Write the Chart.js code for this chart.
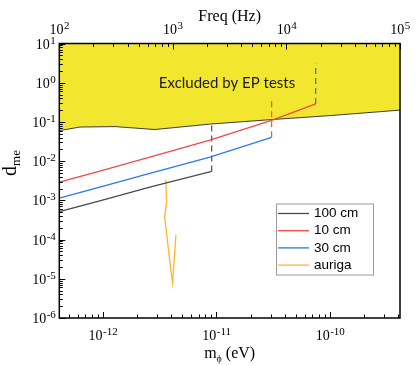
<!DOCTYPE html>
<html>
<head>
<meta charset="utf-8">
<script src="https://cdn.jsdelivr.net/npm/chart.js@4/dist/chart.umd.min.js"></script>
<style>
  html, body { margin: 0; padding: 0; background: #fff; }
  #wrap { width: 416px; height: 366px; position: relative; }
</style>
</head>
<body>
<div id="wrap"><canvas id="c"></canvas></div>
<script>
// scalar mass (eV) on the bottom, frequency (Hz) on top, 1 eV = 2.418e14 Hz
const massRange = [4.136e-13, 4.136e-10];
const freqRange = [1e2, 1e5];
const dRange = [1e-6, 10];

const massTicks = [1e-12, 1e-11, 1e-10];
const freqTicks = [1e2, 1e3, 1e4, 1e5];
const dTicks = [1e-6, 1e-5, 1e-4, 1e-3, 1e-2, 1e-1, 1e0, 1e1];

// EP-test exclusion boundary
const epMass = [4.136e-13, 6.27e-13, 1.28e-12, 2.87e-12, 8.77e-12, 2.96e-11, 1e-10, 4.136e-10];
const epLimit = [0.060, 0.074, 0.076, 0.064, 0.088, 0.114, 0.145, 0.20];

// projected sensitivities
const labels = ['100 cm', '10 cm', '30 cm', 'auriga'];
const m100 = [4.136e-13, 9.4e-13, 2.59e-12, 9.08e-12];
const d100 = [5.19e-4, 9.75e-4, 2.16e-3, 5.46e-3];
const m10 = [4.136e-13, 9.4e-13, 2.59e-12, 8.77e-12, 3.06e-11, 7.48e-11];
const d10 = [2.93e-3, 5.6e-3, 1.26e-2, 3.42e-2, 0.110, 0.288];
const m30 = [4.136e-13, 9.4e-13, 2.59e-12, 8.77e-12, 3.06e-11];
const d30 = [1.14e-3, 2.17e-3, 4.91e-3, 1.27e-2, 0.0404];
const aurigaMass = [3.59e-12, 3.64e-12, 3.50e-12, 3.74e-12, 3.97e-12, 4.11e-12, 4.22e-12, 4.40e-12];
const aurigaD = [3.35e-3, 8.7e-4, 3.8e-4, 7.3e-5, 1.68e-5, 7.8e-6, 2.26e-5, 1.32e-4];

// dashed cut-offs at the end of each curve
const cutMass = [9.08e-12, 3.06e-11, 7.48e-11];
const cutLow = [5.46e-3, 0.0404, 0.288];
const cutHigh = [0.085, 0.41, 3.03];

const colors = ['#4a4a4a', '#f2484a', '#2a7ae8', '#ffb52e'];
const cutColors = ['#5a5a5a', '#f25a3e', '#2a7ae8'];

const pts = (xs, ys) => xs.map((x, i) => ({ x: x, y: ys[i] }));

const datasets = [
  {
    label: 'EP', data: pts(epMass, epLimit), fill: 'end', order: 10,
    backgroundColor: '#f2e62e', borderColor: '#3a3a3a', borderWidth: 1
  },
  { label: labels[0], data: pts(m100, d100), borderColor: colors[0] },
  { label: labels[1], data: pts(m10, d10), borderColor: colors[1] },
  { label: labels[2], data: pts(m30, d30), borderColor: colors[2] },
  { label: labels[3], data: pts(aurigaMass, aurigaD), borderColor: colors[3] }
];
cutMass.forEach((m, i) => {
  datasets.push({
    label: 'cut', data: [{ x: m, y: cutLow[i] }, { x: m, y: cutHigh[i] }],
    borderColor: cutColors[i], borderDash: [6, 4]
  });
});
datasets.forEach(d => {
  d.pointRadius = 0;
  d.tension = 0;
  if (!d.borderWidth) d.borderWidth = 1.3;
  if (!d.fill) d.fill = false;
  if (d.order === undefined) d.order = 0;
});

const SERIF = '"Liberation Serif", "Times New Roman", serif';
const SANS = '"Liberation Sans", Arial, sans-serif';

function powLabel(ctx, exp, x, y, align) {
  ctx.font = '14px ' + SERIF;
  const wb = ctx.measureText('10').width;
  ctx.font = '11px ' + SERIF;
  const s = String(exp);
  const we = ctx.measureText(s).width;
  let left = x - (wb + we) / 2;
  if (align === 'right') left = x - wb - we;
  ctx.textAlign = 'left';
  ctx.textBaseline = 'alphabetic';
  ctx.font = '14px ' + SERIF;
  ctx.fillText('10', left, y);
  ctx.font = '11px ' + SERIF;
  ctx.fillText(s, left + wb + 0.5, y - 5);
}

function minors(decades, lo, hi) {
  const out = [];
  decades.concat([decades[0] / 10]).forEach(d => {
    for (let k = 2; k <= 9; k++) {
      const v = d * k;
      if (v > lo && v < hi) out.push(v);
    }
  });
  return out;
}

const decor = {
  id: 'decor',
  afterDatasetsDraw(chart) {
    const { ctx, chartArea: a, scales } = chart;
    const sx = scales.x, sx2 = scales.x2, sy = scales.y;
    ctx.save();
    ctx.strokeStyle = '#000';
    ctx.fillStyle = '#000';

    // ticks pointing inward
    ctx.lineWidth = 1;
    ctx.beginPath();
    massTicks.forEach(v => { const p = Math.round(sx.getPixelForValue(v)) + 0.5; ctx.moveTo(p, a.bottom); ctx.lineTo(p, a.bottom - 6); });
    minors(massTicks, massRange[0], massRange[1]).forEach(v => { const p = Math.round(sx.getPixelForValue(v)) + 0.5; ctx.moveTo(p, a.bottom); ctx.lineTo(p, a.bottom - 3.5); });
    freqTicks.forEach(v => { const p = Math.round(sx2.getPixelForValue(v)) + 0.5; ctx.moveTo(p, a.top); ctx.lineTo(p, a.top + 6); });
    minors(freqTicks, freqRange[0], freqRange[1]).forEach(v => { const p = Math.round(sx2.getPixelForValue(v)) + 0.5; ctx.moveTo(p, a.top); ctx.lineTo(p, a.top + 3.5); });
    dTicks.forEach(v => { const p = Math.round(sy.getPixelForValue(v)) + 0.5; ctx.moveTo(a.left, p); ctx.lineTo(a.left + 6, p); });
    minors(dTicks, dRange[0], dRange[1]).forEach(v => { const p = Math.round(sy.getPixelForValue(v)) + 0.5; ctx.moveTo(a.left, p); ctx.lineTo(a.left + 3.5, p); });
    ctx.stroke();

    // frame
    ctx.lineWidth = 1.5;
    ctx.strokeRect(a.left, a.top, a.right - a.left, a.bottom - a.top);

    // tick labels
    massTicks.forEach(v => powLabel(ctx, Math.round(Math.log10(v)), sx.getPixelForValue(v), a.bottom + 22));
    freqTicks.forEach(v => powLabel(ctx, Math.round(Math.log10(v)), sx2.getPixelForValue(v), a.top - 10));
    dTicks.forEach(v => powLabel(ctx, Math.round(Math.log10(v)), a.left - 4, sy.getPixelForValue(v) + 5, 'right'));

    // axis titles
    const cx = (a.left + a.right) / 2;
    ctx.textBaseline = 'alphabetic';
    ctx.textAlign = 'center';
    ctx.font = '16px ' + SERIF;
    ctx.fillText('Freq (Hz)', cx, 21);

    ctx.textAlign = 'left';
    ctx.font = '16px ' + SERIF;
    const wm = ctx.measureText('m').width;
    const wr = ctx.measureText(' (eV)').width;
    ctx.font = '10px ' + SERIF;
    const wp = ctx.measureText('ϕ').width;
    let lx = cx - (wm + wp + wr) / 2;
    ctx.font = '16px ' + SERIF;
    ctx.fillText('m', lx, 358);
    ctx.font = '10px ' + SERIF;
    ctx.fillText('ϕ', lx + wm, 362);
    ctx.font = '16px ' + SERIF;
    ctx.fillText(' (eV)', lx + wm + wp, 358);

    ctx.save();
    ctx.translate(16, 163);
    ctx.rotate(-Math.PI / 2);
    ctx.font = '20px ' + SERIF;
    const wd = ctx.measureText('d').width;
    ctx.font = '13px ' + SERIF;
    const wme = ctx.measureText('me').width;
    ctx.font = '20px ' + SERIF;
    ctx.fillText('d', -(wd + wme) / 2, 0);
    ctx.font = '13px ' + SERIF;
    ctx.fillText('me', -(wd + wme) / 2 + wd, 4);
    ctx.restore();

    // annotation in the excluded region
    ctx.textAlign = 'center';
    ctx.textBaseline = 'middle';
    ctx.font = '15px Lato, "Open Sans", sans-serif';
    ctx.fillStyle = '#1a1a1a';
    ctx.fillText('Excluded by EP tests', sx.getPixelForValue(1.24e-11), sy.getPixelForValue(1.0));

    // legend
    const lgL = a.right - 124, lgT = a.top + 160, lgW = 97, lgH = 71;
    ctx.fillStyle = '#fff';
    ctx.fillRect(lgL, lgT, lgW, lgH);
    ctx.strokeStyle = '#9a9a9a';
    ctx.lineWidth = 1;
    ctx.strokeRect(lgL + 0.5, lgT + 0.5, lgW, lgH);
    ctx.textAlign = 'left';
    ctx.textBaseline = 'middle';
    ctx.font = '13.5px ' + SANS;
    labels.forEach((t, i) => {
      const yy = lgT + 10 + i * 17.2;
      ctx.strokeStyle = colors[i];
      ctx.lineWidth = 1.3;
      ctx.beginPath();
      ctx.moveTo(lgL + 2, yy);
      ctx.lineTo(lgL + 33, yy);
      ctx.stroke();
      ctx.fillStyle = '#000';
      ctx.fillText(t, lgL + 38, yy);
    });
    ctx.restore();
  }
};

new Chart(document.getElementById('c'), {
  type: 'line',
  data: { datasets: datasets },
  options: {
    responsive: true,
    maintainAspectRatio: false,
    animation: false,
    layout: { padding: { left: 0, right: 16, top: 0, bottom: 0 } },
    plugins: { legend: { display: false }, tooltip: { enabled: false } },
    scales: {
      x: {
        type: 'logarithmic', position: 'bottom', min: massRange[0], max: massRange[1],
        grid: { display: false }, border: { display: false }, ticks: { display: false },
        afterFit: s => { s.height = 48; }
      },
      x2: {
        type: 'logarithmic', position: 'top', min: freqRange[0], max: freqRange[1],
        grid: { display: false }, border: { display: false }, ticks: { display: false },
        afterFit: s => { s.height = 43.5; }
      },
      y: {
        type: 'logarithmic', position: 'left', min: dRange[0], max: dRange[1],
        grid: { display: false }, border: { display: false }, ticks: { display: false },
        afterFit: s => { s.width = 59.3; }
      }
    }
  },
  plugins: [decor]
});
</script>
</body>
</html>
